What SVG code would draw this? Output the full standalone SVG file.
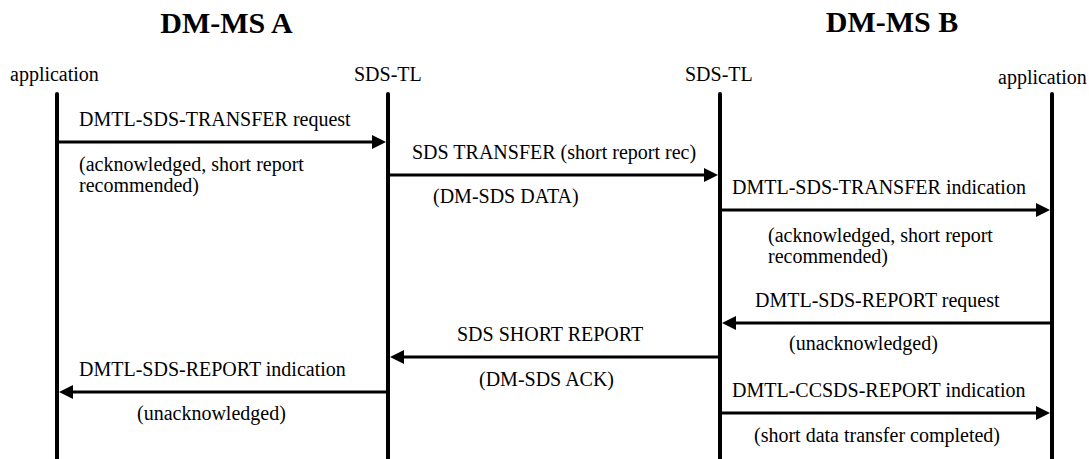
<svg xmlns="http://www.w3.org/2000/svg" width="1089" height="459" viewBox="0 0 1089 459">
<style>
text{font-family:"Liberation Serif","Times New Roman",serif;font-size:20px;fill:#000}
.title{font-size:30px;font-weight:bold}
.life{stroke:#000;stroke-width:4;stroke-linecap:round;fill:none}
.msg{stroke:#000;stroke-width:3;fill:none;marker-end:url(#ah)}
</style>
<defs>
<marker id="ah" markerWidth="14" markerHeight="14" refX="0" refY="7" orient="auto" markerUnits="userSpaceOnUse">
<path d="M0,0 L14,7 L0,14 z" fill="#000"/>
</marker>
</defs>
<g id="titles">
<text class="title" x="226.5" y="33" text-anchor="middle">DM-MS A</text>
<text class="title" x="892" y="32" text-anchor="middle">DM-MS B</text>
</g>
<g id="appA">
<text x="10" y="81">application</text>
<line class="life" x1="57" y1="94" x2="57" y2="462"/>
</g>
<g id="tlA">
<text x="354" y="81">SDS-TL</text>
<line class="life" x1="388" y1="94" x2="388" y2="462"/>
</g>
<g id="tlB">
<text x="685" y="81">SDS-TL</text>
<line class="life" x1="720" y1="94" x2="720" y2="462"/>
</g>
<g id="appB">
<text x="998" y="84">application</text>
<line class="life" x1="1052" y1="94" x2="1052" y2="462"/>
</g>
<g id="connectors">
<line class="msg" x1="57" y1="142" x2="372" y2="142"/>
<line class="msg" x1="388" y1="175" x2="704" y2="175"/>
<line class="msg" x1="720" y1="210" x2="1036" y2="210"/>
<line class="msg" x1="1052" y1="323" x2="736" y2="323"/>
<line class="msg" x1="720" y1="357" x2="404" y2="357"/>
<line class="msg" x1="388" y1="392" x2="73" y2="392"/>
<line class="msg" x1="720" y1="413" x2="1036" y2="413"/>
</g>
<g id="labels">
<text x="79" y="126">DMTL-SDS-TRANSFER request</text>
<text x="79" y="171">(acknowledged, short report</text>
<text x="79" y="192">recommended)</text>
<text x="412" y="159">SDS TRANSFER (short report rec)</text>
<text x="433" y="203">(DM-SDS DATA)</text>
<text x="732" y="194">DMTL-SDS-TRANSFER indication</text>
<text x="768" y="242">(acknowledged, short report</text>
<text x="768" y="263">recommended)</text>
<text x="755" y="307">DMTL-SDS-REPORT request</text>
<text x="789" y="350">(unacknowledged)</text>
<text x="457" y="341">SDS SHORT REPORT</text>
<text x="479" y="386">(DM-SDS ACK)</text>
<text x="79" y="376">DMTL-SDS-REPORT indication</text>
<text x="137" y="420">(unacknowledged)</text>
<text x="732" y="397">DMTL-CCSDS-REPORT indication</text>
<text x="754" y="442">(short data transfer completed)</text>
</g>
</svg>
